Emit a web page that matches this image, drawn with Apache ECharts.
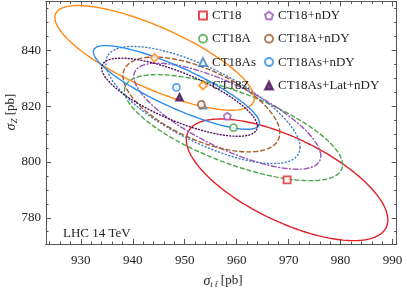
<!DOCTYPE html>
<html><head><meta charset="utf-8">
<script src="https://cdn.jsdelivr.net/npm/echarts@6/dist/echarts.min.js"></script>
<style>html,body{margin:0;padding:0;background:#fff}#c{width:407px;height:292px}</style>
</head><body><div id="c"></div>
<script>
// ---- data ----
const seriesNames = ['CT18','CT18A','CT18As','CT18Z','CT18+nDY','CT18A+nDY','CT18As+nDY','CT18As+Lat+nDY'];
const centerSigmaTT = [969.7, 959.4, 953.5, 944.2, 958.2, 953.2, 948.4, 949.0];
const centerSigmaZ  = [793.6, 812.3, 820.4, 837.3, 816.4, 820.6, 826.7, 823.2];
const errSigmaTT    = [19.4, 21.0, 18.7, 19.2, 18.0, 15.1, 16.0, 15.0];
const errSigmaZ     = [21.8, 19.0, 21.0, 18.75, 19.0, 17.0, 15.0, 14.0];
const corrTTZ       = [-0.66, -0.70, -0.72, -0.77, -0.75, -0.60, -0.85, -0.75];
const xTickLabels = [930, 940, 950, 960, 970, 980, 990];
const yTickLabels = [780, 800, 820, 840];
const xRange = [923.3, 990.8];
const yRange = [770.6, 857.5];

// ---- styles ----
const colors = ['#e3202a','#4ba54a','#3d7fc0','#ff8a14','#9a54b8','#a85a2c','#2b8cf0','#50145f'];
const lineTypes = ['solid',[4,3],[1,2.6],'solid',[5,2.5,1,2.5],[4,3],'solid',[1,2.2]];
const symbols = ['rect','circle','triangle','diamond',
  'path://M0,-1 L0.951,-0.309 L0.588,0.809 L-0.588,0.809 L-0.951,-0.309 Z',
  'circle','circle','triangle'];
const filled = [false,false,false,false,false,false,false,true];

function ellipse(i){
  const pts=[]; const n=160; const r=corrTTZ[i]; const s=Math.sqrt(1-r*r);
  for(let k=0;k<=n;k++){const t=2*Math.PI*k/n;
    pts.push([centerSigmaTT[i]+errSigmaTT[i]*Math.cos(t), centerSigmaZ[i]+errSigmaZ[i]*(r*Math.cos(t)+s*Math.sin(t))]);}
  return pts;
}
const xMinor=[]; for(let v=924; v<=990; v+=2) xMinor.push(v);
const yMinor=[]; for(let v=775; v<=855; v+=5) yMinor.push(v);

const FONT='Liberation Serif';
const axisCol='#555';
function xAx(pos, vals, len, labels){
  return {type:'value', position:pos, min:xRange[0], max:xRange[1], gridIndex:0,
    axisLine:{show:true,lineStyle:{color:axisCol,width:1}},
    axisTick:{show:true,inside:true,length:len,customValues:vals,lineStyle:{color:axisCol}},
    axisLabel:{show:labels,customValues:vals,fontFamily:FONT,fontSize:13,color:'#222',margin:10},
    splitLine:{show:false}};
}
function yAx(pos, vals, len, labels){
  return {type:'value', position:pos, min:yRange[0], max:yRange[1], gridIndex:0,
    axisLine:{show:true,lineStyle:{color:axisCol,width:1}},
    axisTick:{show:true,inside:true,length:len,customValues:vals,lineStyle:{color:axisCol}},
    axisLabel:{show:labels,customValues:vals,fontFamily:FONT,fontSize:13,color:'#222',margin:5},
    splitLine:{show:false}};
}
const series=[];
seriesNames.forEach((nm,i)=>{
  series.push({type:'line', name:nm+'_ell', data:ellipse(i), showSymbol:false, symbol:'none',
    lineStyle:{color:colors[i], width:1.4, type:lineTypes[i], cap:'round'}, silent:true, z:2});
});
seriesNames.forEach((nm,i)=>{
  series.push({type:'scatter', name:nm, data:[[centerSigmaTT[i], centerSigmaZ[i]]], symbol:symbols[i],
    symbolSize: i===3?8:7, z:5,
    itemStyle:{color: filled[i]?colors[i]:'#fff', borderColor:colors[i], borderWidth:1.8}});
});
const legendBase={orient:'vertical', itemWidth:8, itemHeight:8, itemGap:10.3, padding:0,
  textStyle:{fontFamily:FONT,fontSize:13,color:'#222'}, selectedMode:false};
const option={
  animation:false,
  grid:{left:46, right:10.3, top:1.5, bottom:48},
  xAxis:[xAx('bottom',xTickLabels,5,true), xAx('bottom',xMinor,2.5,false), xAx('top',xTickLabels,5,false), xAx('top',xMinor,2.5,false)],
  yAxis:[yAx('left',yTickLabels,5,true), yAx('left',yMinor,2.5,false), yAx('right',yTickLabels,5,false), yAx('right',yMinor,2.5,false)],
  legend:[Object.assign({},legendBase,{left:198, top:9, data:seriesNames.slice(0,4)}),
          Object.assign({},legendBase,{left:264, top:9, data:seriesNames.slice(4)})],
  series:series,
  graphic:[
    {type:'text', left:63, top:227, style:{text:'LHC 14 TeV', font:'13px "Liberation Serif"', fill:'#222'}},
    {type:'text', x:11, y:112, rotation:Math.PI/2, style:{text:'{i|σ}{s|Z} [pb]', align:'center', verticalAlign:'middle',
      font:'13px "Liberation Serif"', fill:'#222',
      rich:{i:{fontStyle:'italic',fontSize:14,fontFamily:FONT,fill:'#222'}, s:{fontStyle:'italic',fontSize:9,fontFamily:FONT,padding:[7,0,0,0],fill:'#222'}}}},
    {type:'text', x:223, y:281, style:{text:'{i|σ}{s|t t̄} [pb]', align:'center', verticalAlign:'middle',
      font:'13px "Liberation Serif"', fill:'#222',
      rich:{i:{fontStyle:'italic',fontSize:14,fontFamily:FONT,fill:'#222'}, s:{fontStyle:'italic',fontSize:9,fontFamily:FONT,padding:[7,0,0,0],fill:'#222'}}}}
  ]
};
const chart=echarts.init(document.getElementById('c'),null,{renderer:'canvas'});
chart.setOption(option);
</script></body></html>
